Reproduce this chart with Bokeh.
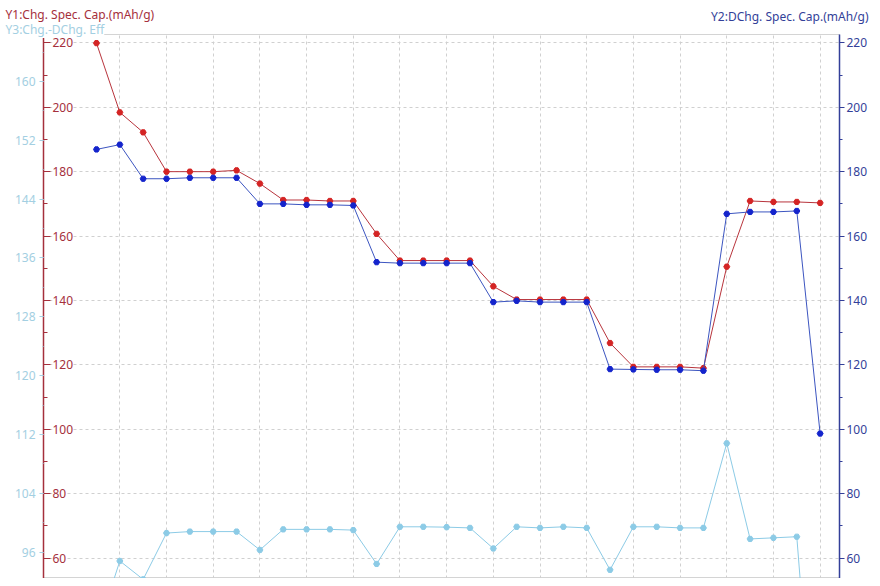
from bokeh.core.properties import value
from bokeh.embed import file_html
from bokeh.models import FixedTicker, Label, LinearAxis, Range1d, SingleIntervalTicker, Title
from bokeh.plotting import figure
from bokeh.resources import INLINE

# cycle number and the three series
cycles = [1, 2, 3, 4, 5, 6, 7, 8, 9, 10, 11, 12, 13, 14, 15, 16,
          17, 18, 19, 20, 21, 22, 23, 24, 25, 26, 27, 28, 29, 30, 31, 32]
chg_cap = [219.9, 198.4, 192.2, 180.0, 180.0, 180.0, 180.4, 176.3,
           171.2, 171.2, 170.9, 170.9, 160.7, 152.4, 152.4, 152.4,
           152.4, 144.4, 140.3, 140.3, 140.3, 140.3, 126.8, 119.4,
           119.4, 119.4, 119.0, 150.5, 170.9, 170.6, 170.6, 170.3]
dchg_cap = [186.9, 188.4, 177.8, 177.8, 178.1, 178.1, 178.1, 170.0,
            170.0, 169.7, 169.7, 169.5, 151.9, 151.6, 151.6, 151.6,
            151.6, 139.5, 139.9, 139.5, 139.5, 139.5, 118.7, 118.6,
            118.5, 118.5, 118.2, 166.9, 167.5, 167.5, 167.8, 98.7]
efficiency = [85.0, 94.8, 92.3, 98.6, 98.8, 98.8, 98.8, 96.3,
              99.1, 99.1, 99.1, 99.0, 94.4, 99.45, 99.45, 99.4,
              99.3, 96.5, 99.45, 99.3, 99.45, 99.3, 93.6, 99.45,
              99.45, 99.3, 99.3, 110.8, 97.8, 97.95, 98.1, 58.0]

cap_ticks = [60, 80, 100, 120, 140, 160, 180, 200, 220]
grid_cycles = [2, 4, 6, 8, 10, 12, 14, 16, 18, 20, 22, 24, 26, 28, 30, 32]

x_start, x_end = -1.27, 32.83
cap_lo, cap_hi = 53.7, 222.58
eff_lo, eff_hi = 92.42, 166.39

FONT = "Noto Sans"
RED = "#d42424"
RED_LINE = "#b8343c"
RED_AXIS = "#a5303c"
BLUE = "#1424cc"
BLUE_LINE = "#3c55c0"
BLUE_AXIS = "#333f99"
SKY = "#8ccbe6"
SKY_TEXT = "#a3cfe2"

p = figure(width=872, height=578, x_range=Range1d(x_start, x_end),
           y_range=Range1d(cap_lo, cap_hi),
           output_backend="svg", toolbar_location=None,
           min_border_left=43, min_border_right=33,
           min_border_top=34, min_border_bottom=0)
p.extra_y_ranges = {"dchg": Range1d(cap_lo, cap_hi), "eff": Range1d(eff_lo, eff_hi)}
p.outline_line_color = "#d4d4d4"
p.background_fill_color = "white"
p.border_fill_color = "white"
p.xaxis.visible = False

# grid
cap_ticker = SingleIntervalTicker(interval=20, num_minor_ticks=2)
p.xgrid.ticker = FixedTicker(ticks=grid_cycles)
p.ygrid.ticker = cap_ticker
for g in (p.xgrid[0], p.ygrid[0]):
    g.grid_line_color = "#d0d0d0"
    g.grid_line_dash = "3 3"
    g.grid_line_width = 1

# Y1 axis: red line, ticks inside, labels drawn inside the frame
y1 = p.yaxis[0]
y1.ticker = cap_ticker
y1.axis_line_color = RED_AXIS
y1.axis_line_width = 1.5
y1.major_tick_line_color = RED_AXIS
y1.minor_tick_line_color = RED_AXIS
y1.major_tick_in = 7
y1.major_tick_out = 0
y1.minor_tick_in = 4
y1.minor_tick_out = 0
y1.major_label_standoff = 3
y1.major_label_overrides = {t: "" for t in cap_ticks}

p.text(x=[x_start] * len(cap_ticks), y=cap_ticks, text=[str(t) for t in cap_ticks],
       x_offset=9, text_align="left", text_baseline="middle",
       text_color=RED_AXIS, text_font=value(FONT), text_font_size="12px",
       background_fill_color="white")

# Y3 axis: efficiency, outer left
y3 = LinearAxis(y_range_name="eff", ticker=SingleIntervalTicker(interval=8, num_minor_ticks=2))
y3.axis_line_color = None
y3.major_tick_line_color = SKY_TEXT
y3.minor_tick_line_color = SKY_TEXT
y3.major_tick_in = 0
y3.major_tick_out = 4
y3.minor_tick_in = 0
y3.minor_tick_out = 1
y3.major_label_standoff = 4
y3.major_label_text_color = SKY_TEXT
y3.major_label_text_font = FONT
y3.major_label_text_font_size = "12px"
p.add_layout(y3, "left")

# Y2 axis: discharge capacity, right
y2 = LinearAxis(y_range_name="dchg", ticker=SingleIntervalTicker(interval=20, num_minor_ticks=2))
y2.axis_line_color = BLUE_AXIS
y2.axis_line_width = 1.5
y2.major_tick_line_color = BLUE_AXIS
y2.minor_tick_line_color = BLUE_AXIS
y2.major_tick_in = 0
y2.major_tick_out = 5
y2.minor_tick_in = 0
y2.minor_tick_out = 3
y2.major_label_standoff = 2
y2.major_label_text_color = BLUE_AXIS
y2.major_label_text_font = FONT
y2.major_label_text_font_size = "12px"
p.add_layout(y2, "right")

# series (blue drawn over red, as in the original)
p.line(cycles, efficiency, y_range_name="eff", line_color=SKY, line_width=1)
p.scatter(cycles, efficiency, y_range_name="eff", marker="hex", size=6,
          fill_color=SKY, line_color=SKY)
p.line(cycles, chg_cap, line_color=RED_LINE, line_width=1)
p.scatter(cycles, chg_cap, marker="hex", size=6, fill_color=RED, line_color=RED)
p.line(cycles, dchg_cap, y_range_name="dchg", line_color=BLUE_LINE, line_width=1)
p.scatter(cycles, dchg_cap, y_range_name="dchg", marker="hex", size=6,
          fill_color=BLUE, line_color=BLUE)

# axis titles in the panel above the frame (stacked outward from the frame)
p.add_layout(Label(x=-38, y=5, x_units="screen", y_units="screen",
                   text="Y3:Chg.-DChg. Eff", text_align="left",
                   text_baseline="middle", text_font=FONT, text_font_size="12px",
                   text_color=SKY_TEXT, background_fill_color="white"), "above")
p.add_layout(Title(text="Y2:DChg. Spec. Cap.(mAh/g)", align="right", offset=-29,
                   standoff=-19, vertical_align="top", text_font=FONT,
                   text_font_size="12px", text_font_style="normal",
                   text_color=BLUE_AXIS), "above")
p.add_layout(Label(x=-38, y=3, x_units="screen", y_units="screen",
                   text="Y1:Chg. Spec. Cap.(mAh/g)", text_align="left",
                   text_baseline="middle", text_font=FONT, text_font_size="12px",
                   text_color=RED_AXIS), "above")

open("out.html", "w").write(file_html(p, INLINE))
